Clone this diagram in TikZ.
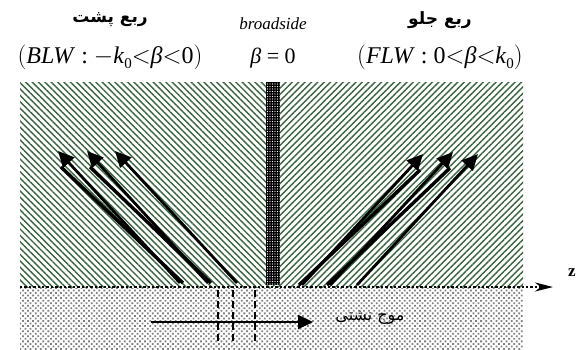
\documentclass[tikz,border=0pt]{standalone}
\usepackage{fontspec}
\setmainfont{Liberation Serif}
\newfontfamily\fa[Script=Arabic]{DejaVu Sans}
\TeXXeTstate=1
\usetikzlibrary{patterns,patterns.meta,arrows.meta}
\definecolor{hgreen}{RGB}{55,100,62}
\definecolor{shade}{RGB}{105,128,108}
\tikzset{
  hatchL/.style={pattern={Lines[angle=-45,distance=4.5pt,line width=1.4pt]},pattern color=hgreen},
  hatchR/.style={pattern={Lines[angle=45,distance=4.5pt,line width=1.4pt]},pattern color=hgreen},
  dotted grey/.style={pattern={Dots[distance=3.6pt,radius=1.25pt,angle=45]},pattern color=black!50},
  ray/.style={line width=2.8pt,-{Triangle[length=16pt,width=15pt]}},
  rayshadow/.style={line width=3.4pt,shade},
  axisline/.style={line width=2.4pt,dash pattern=on 2.4pt off 2pt,-{Stealth[length=18pt,width=9pt]}},
  wave/.style={line width=2pt,-{Triangle[length=15pt,width=14pt]}},
  cut/.style={line width=1.8pt,dash pattern=on 7pt off 4pt},
  title/.style={font=\fa\bfseries\fontsize{17}{19}\selectfont},
  formula/.style={font=\fontsize{24}{27}\selectfont},
}
\begin{document}
\begin{tikzpicture}[x=1pt,y=-1pt]
\useasboundingbox (0,0) rectangle (580,349);
% regions
\fill[hatchL] (20,82) rectangle (273,287);
\fill[hatchR] (273,82) rectangle (523,287);
\fill[dotted grey] (20,288) rectangle (523,349);
\fill[black] (266,82) rectangle (280,285);
\fill[pattern={Dots[distance=2.5pt,radius=0.55pt]},pattern color=white] (266,82) rectangle (280,285);
% axis
\coordinate (axL) at (20,287);
\coordinate (axR) at (553,287);
\draw[axisline] (axL) -- (axR);
\node[font=\bfseries\fontsize{17}{18}\selectfont] (z) at (572,273) {z};
% left rays
\coordinate (l1s) at (180,283); \coordinate (l1e) at (58,151);
\coordinate (l2s) at (208,283); \coordinate (l2e) at (87,151);
\coordinate (l3s) at (237,283); \coordinate (l3e) at (115,151);
\draw[rayshadow] ([xshift=3pt]l1s) -- ([xshift=3pt,yshift=-16pt]l1e);
\draw[rayshadow] ([xshift=3pt]l2s) -- ([xshift=3pt,yshift=-16pt]l2e);
\draw[ray] (l1s) -- (l1e);
\draw[ray] (l2s) -- (l2e);
\draw[ray] (l3s) -- (l3e);
% right rays
\coordinate (r1s) at (302,285); \coordinate (r1e) at (423,154);
\coordinate (r2s) at (330,285); \coordinate (r2e) at (453,152);
\coordinate (r3s) at (357,285); \coordinate (r3e) at (478,154);
\draw[rayshadow] ([xshift=-3pt]r1s) -- ([xshift=-3pt,yshift=-16pt]r1e);
\draw[rayshadow] ([xshift=-3pt]r2s) -- ([xshift=-3pt,yshift=-16pt]r2e);
\draw[ray] (r1s) -- (r1e);
\draw[ray] (r2s) -- (r2e);
\draw[ray] (r3s) -- (r3e);
% leaky wave
\coordinate (ws) at (151,322); \coordinate (we) at (313,322);
\draw[wave] (ws) -- (we);
\foreach \x/\n in {218/a,233/b,255/c}{
  \coordinate (c\n t) at (\x,290); \coordinate (c\n b) at (\x,345);
  \draw[cut] (c\n t) -- (c\n b);
}
\node[font=\fa\fontsize{16}{18}\selectfont] (lw) at (370,318) {\beginR موج نشتی\endR};
% titles
\node[title] (tb) at (110,20) {\beginR ربع پشت\endR};
\node[title] (tf) at (440,20) {\beginR ربع جلو\endR};
\node[font=\itshape\fontsize{17}{19}\selectfont] (bs) at (273,24) {broadside};
\node[formula] (fb) at (110,57) {$\Bigl($\textit{BLW} : $-$\textit{k}\raisebox{-5pt}{\fontsize{15}{16}\selectfont 0}${<}$\textit{β}${<}$0$\Bigr)$};
\node[formula,font=\fontsize{22}{25}\selectfont] (f0) at (273,58) {\textit{β} = 0};
\node[formula] (ff) at (440,57) {$\Bigl($\textit{FLW} : 0${<}$\textit{β}${<}$\textit{k}\raisebox{-5pt}{\fontsize{15}{16}\selectfont 0}$\Bigr)$};
\end{tikzpicture}
\end{document}
